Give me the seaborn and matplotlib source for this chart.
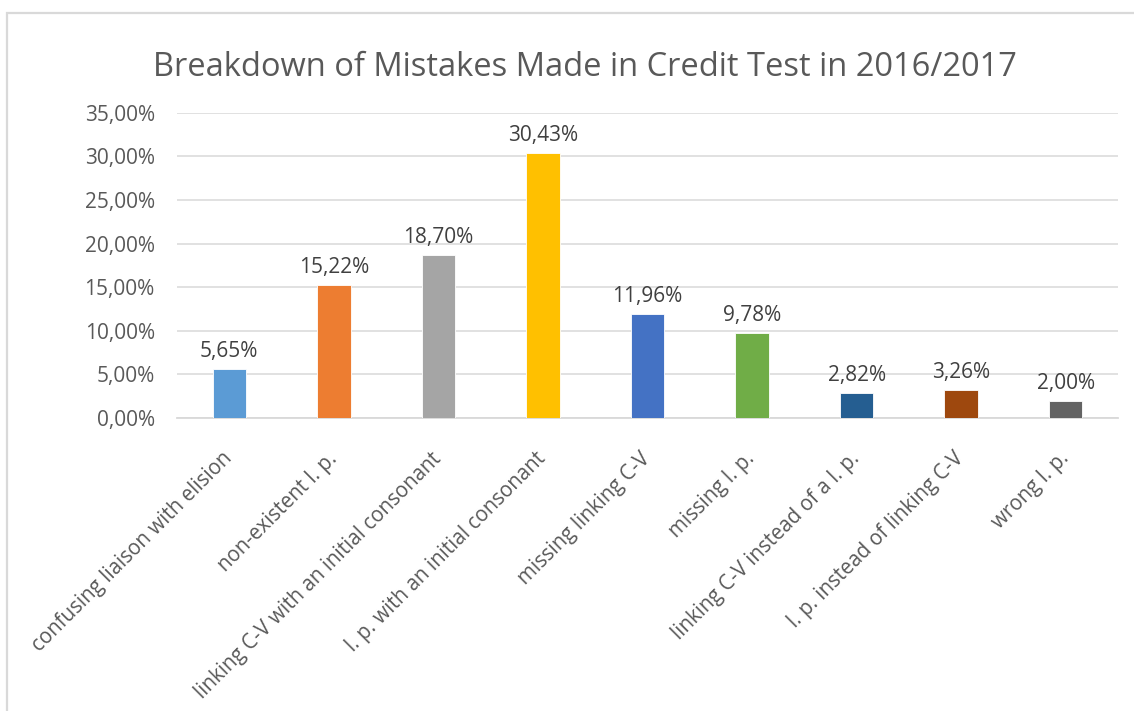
import matplotlib
matplotlib.use("Agg")
import matplotlib.pyplot as plt
from matplotlib.patches import Rectangle
from matplotlib.ticker import FuncFormatter
import seaborn as sns
import pandas as pd

# Mistake categories and their shares (%)
categories = [
    "confusing liaison with elision",
    "non-existent l. p.",
    "linking C-V with an initial consonant",
    "l. p. with an initial consonant",
    "missing linking C-V",
    "missing l. p.",
    "linking C-V instead of a l. p.",
    "l. p. instead of linking C-V",
    "wrong l. p.",
]
shares = [5.65, 15.22, 18.70, 30.43, 11.96, 9.78, 2.82, 3.26, 2.00]
colors = ["#5B9BD5", "#ED7D31", "#A5A5A5", "#FFC000", "#4472C4",
          "#70AD47", "#255E91", "#9E480E", "#636363"]
y_ticks = [0, 5, 10, 15, 20, 25, 30, 35]
title = "Breakdown of Mistakes Made in Credit Test in 2016/2017"

df = pd.DataFrame({"category": categories, "share": shares})

sns.set_theme(style="white")
plt.rcParams["font.family"] = ["Open Sans", "DejaVu Sans"]

W, H = 1134, 711
fig = plt.figure(figsize=(W / 100, H / 100), dpi=100)
fig.patch.set_facecolor("white")

# chart frame
fig.patches.append(Rectangle((7 / W, -0.05), 1.2, 1 - 13 / H + 0.05,
                             transform=fig.transFigure, fill=False,
                             edgecolor="#D9D9D9", linewidth=1.6, zorder=0))

ax = fig.add_axes([177 / W, 1 - 418 / H, (1118 - 177) / W, (418 - 112.7) / H])

sns.barplot(data=df, x="category", y="share", hue="category",
            palette=colors, legend=False, width=0.32, ax=ax,
            saturation=1, edgecolor="white", linewidth=0.6, zorder=3)

ax.set_ylim(0, 35)
ax.set_yticks(y_ticks)
ax.yaxis.set_major_formatter(FuncFormatter(lambda v, p: f"{v:.2f}%".replace(".", ",")))
ax.grid(axis="y", color="#D9D9D9", linewidth=1.1, zorder=0)
ax.set_axisbelow(True)
for s in ["top", "right", "left"]:
    ax.spines[s].set_visible(False)
ax.spines["bottom"].set_color("#D9D9D9")
ax.spines["bottom"].set_linewidth(1.3)
ax.tick_params(axis="y", length=0, pad=16, labelsize=15, labelcolor="#595959")
ax.tick_params(axis="x", length=0, pad=27, labelsize=14.8, labelcolor="#595959")
ax.set_xlabel("")
ax.set_ylabel("")

for lbl in ax.get_xticklabels():
    lbl.set_rotation(45)
    lbl.set_ha("right")
    lbl.set_va("center")
    lbl.set_rotation_mode("anchor")

for i, v in enumerate(shares):
    ax.annotate(f"{v:.2f}%".replace(".", ","), (i, v), xytext=(0, 5),
                textcoords="offset points", ha="center", va="bottom",
                fontsize=15, color="#404040")

fig.text(585 / W, 1 - 68 / H, title, ha="center", va="center",
         fontsize=23.5, color="#595959")

fig.savefig("out.png", dpi=100)
